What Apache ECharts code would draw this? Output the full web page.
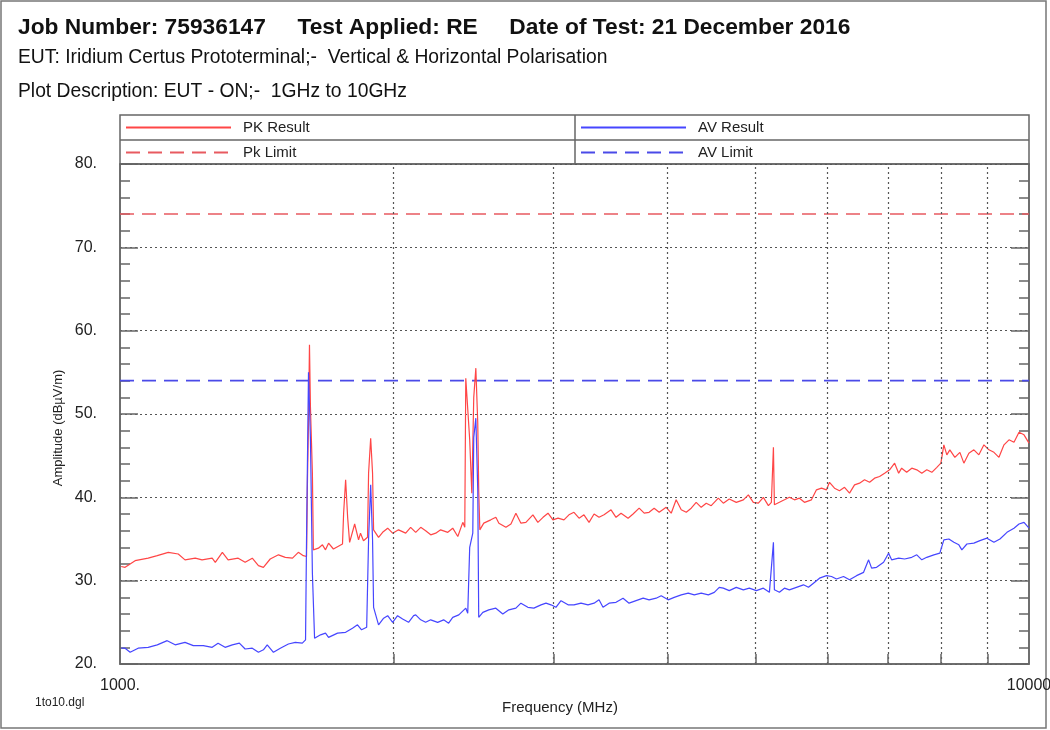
<!DOCTYPE html>
<html><head><meta charset="utf-8">
<script src="https://cdn.jsdelivr.net/npm/echarts@6/dist/echarts.min.js"></script>
<style>html,body{margin:0;padding:0;background:#fff}#c{width:1050px;height:730px}</style>
</head><body><div id="c"></div>
<script>
const yTicks = [20, 30, 40, 50, 60, 70, 80];
const xGridFreqs = [2000, 3000, 4000, 5000, 6000, 7000, 8000, 9000];
const pkLimit = 74;
const avLimit = 54;

const pkFreq = [1003,1013,1026,1039,1074,1099,1130,1159,1179,1210,1231,1263,1273,1296,1315,1349,1373,1398,1420,1438,1463,1494,1520,1548,1571,1591,1604,1608,1612,1616,1620,1628,1632,1653,1670,1683,1696,1717,1757,1762,1771,1780,1789,1812,1830,1839,1853,1872,1877,1887,1896,1901,1925,1945,1970,1995,2025,2062,2088,2115,2142,2169,2197,2225,2253,2294,2323,2353,2383,2395,2401,2413,2425,2438,2450,2463,2475,2481,2488,2513,2558,2591,2611,2658,2692,2726,2761,2796,2846,2882,2920,2957,2994,3033,3079,3118,3158,3199,3239,3281,3323,3365,3408,3469,3513,3558,3622,3668,3725,3773,3820,3869,3919,3989,4040,4091,4144,4197,4250,4304,4359,4415,4471,4552,4610,4680,4764,4850,4912,4974,5038,5102,5168,5207,5234,5247,5314,5382,5450,5520,5591,5662,5763,5837,5912,5987,6033,6110,6188,6267,6347,6428,6510,6593,6678,6763,6849,6937,7025,7115,7188,7243,7335,7431,7526,7622,7719,7818,7918,7999,8060,8121,8183,8288,8394,8479,8587,8697,8808,8921,9035,9150,9267,9386,9506,9627,9750,9874,10000];
const pkValues = [31.7,31.6,32.0,32.4,32.7,33.0,33.4,33.2,32.5,32.7,32.5,32.7,32.2,33.4,32.5,32.7,32.2,32.7,31.8,31.6,32.6,33.1,32.8,32.7,33.4,33.0,32.9,42.4,48.9,58.3,50.8,42.9,33.7,33.9,34.3,33.7,34.5,33.8,34.4,38.1,42.1,37.6,34.6,36.8,34.9,35.7,34.8,35.2,42.9,47.1,42.9,36.1,35.2,35.8,36.3,35.7,36.1,35.7,36.4,35.8,36.4,36.0,35.5,35.7,36.1,35.8,36.3,35.3,37.0,36.4,54.3,54.1,46.9,40.5,52.0,55.5,48.9,40.9,36.1,36.9,37.3,37.6,36.9,36.4,36.8,38.1,36.9,37.0,37.9,37.0,37.6,38.1,37.3,37.5,37.3,37.9,38.2,37.5,37.9,37.0,38.0,37.6,37.9,38.5,37.6,38.1,37.5,38.0,38.7,38.1,38.2,38.7,38.2,38.8,38.1,39.7,38.5,38.2,38.7,39.4,38.8,39.3,39.0,39.9,39.3,39.8,39.4,39.7,40.3,39.4,39.3,40.0,39.0,39.4,46.0,39.1,39.4,39.7,40.0,39.7,39.9,39.4,39.7,40.9,41.1,40.9,41.8,41.1,40.8,41.2,40.5,41.5,41.7,42.1,41.8,42.3,42.5,42.9,43.3,44.1,42.9,43.5,43.0,43.5,43.3,42.9,43.3,43.0,43.6,44.1,46.3,45.1,45.7,44.8,45.4,44.1,45.3,45.7,45.1,46.3,45.7,45.4,44.8,46.3,46.9,46.6,47.8,47.5,46.5];

const avFreq = [1003,1013,1026,1047,1074,1099,1127,1150,1179,1204,1235,1263,1282,1305,1329,1353,1373,1398,1420,1438,1452,1475,1501,1532,1559,1587,1600,1604,1612,1620,1628,1637,1662,1683,1696,1735,1771,1802,1825,1844,1868,1877,1887,1896,1901,1925,1950,1970,1995,2020,2046,2077,2104,2115,2142,2169,2197,2236,2270,2299,2323,2359,2401,2413,2425,2444,2450,2463,2475,2481,2507,2545,2591,2637,2678,2726,2761,2810,2853,2905,2942,2979,3017,3056,3111,3158,3215,3272,3323,3365,3399,3452,3513,3576,3631,3696,3763,3820,3889,3939,4009,4071,4144,4218,4283,4359,4438,4506,4563,4610,4680,4764,4850,4924,5013,5102,5181,5234,5247,5314,5382,5450,5548,5648,5720,5793,5882,5987,6064,6141,6251,6347,6461,6577,6661,6712,6797,6919,7007,7061,7188,7298,7431,7526,7622,7719,7858,7978,8060,8163,8267,8372,8436,8544,8697,8831,8989,9150,9291,9457,9627,9750,9874,10000];
const avValues = [21.9,21.9,21.4,21.9,22.0,22.3,22.8,22.3,22.6,22.2,22.2,22.0,22.5,22.0,22.3,22.5,21.8,21.9,21.4,21.7,22.3,21.4,21.9,22.4,22.6,22.5,22.9,34.9,55.0,46.9,30.9,23.1,23.5,23.7,23.2,23.7,23.8,24.3,24.7,24.1,24.4,34.9,41.5,34.9,26.8,24.7,25.5,25.8,25.0,25.8,25.4,25.0,25.8,25.9,25.3,25.0,25.3,25.0,25.3,24.9,25.6,25.9,26.7,26.1,34.0,35.7,47.2,49.5,40.9,25.6,26.2,26.5,26.7,26.0,26.5,26.7,27.3,26.8,26.7,27.1,27.3,27.1,26.8,27.6,27.1,27.1,27.3,27.1,27.3,27.7,26.8,27.3,27.4,27.9,27.3,27.6,27.9,27.7,27.9,28.2,27.7,28.0,28.3,28.5,28.3,28.5,28.3,28.6,29.2,29.1,28.8,29.2,28.9,29.1,28.8,29.1,28.6,34.6,28.9,28.6,29.1,28.9,29.2,29.5,29.2,29.7,30.3,30.6,30.5,30.2,30.5,30.1,30.6,31.0,32.5,31.5,31.6,32.2,33.3,32.5,32.7,32.6,32.8,33.1,32.5,32.8,33.1,33.3,34.9,35.0,34.6,34.3,33.7,34.4,34.5,34.8,35.1,34.6,35.0,35.8,36.3,36.8,37.0,36.3];

const titleLine1 = 'Job Number: 75936147     Test Applied: RE     Date of Test: 21 December 2016';
const titleLine2 = 'EUT: Iridium Certus Prototerminal;-  Vertical & Horizontal Polarisation';
const titleLine3 = 'Plot Description: EUT - ON;-  1GHz to 10GHz';
const seriesNames = ['PK Result', 'AV Result', 'Pk Limit', 'AV Limit'];

const FONT = '"Liberation Sans", Arial, sans-serif';
const RED = '#ff4646', BLUE = '#4646ff', RED_D = '#e85a60', BLUE_D = '#4a4ae8';
const G = {left: 120, right: 21, top: 164, bottom: 66};

const chart = echarts.init(document.getElementById('c'));
const pairs = (xs, ys) => xs.map((x, i) => [x, ys[i]]);

function legendItem(name, left, top) {
  return {
    data: [name], left: left, top: top, orient: 'horizontal', padding: 0,
    itemWidth: 105, itemHeight: 14, selectedMode: false,
    itemStyle: {opacity: 0},
    textStyle: {fontFamily: FONT, fontSize: 15, color: '#222', padding: [0, 0, 0, 7]}
  };
}

const option = {
  animation: false,
  backgroundColor: '#fff',
  textStyle: {fontFamily: FONT},
  grid: {left: G.left, right: G.right, top: G.top, bottom: G.bottom, show: true, borderColor: '#666', borderWidth: 1.5, backgroundColor: 'transparent', outerBoundsMode: 'none', containLabel: false},
  legend: [
    legendItem(seriesNames[0], 125, 120),
    legendItem(seriesNames[1], 580, 120),
    legendItem(seriesNames[2], 125, 145),
    legendItem(seriesNames[3], 580, 145)
  ],
  xAxis: {
    type: 'log', logBase: 10, min: 1000, max: 10000,
    axisLine: {show: true, lineStyle: {color: '#666', width: 1.5}},
    axisTick: {show: false},
    splitLine: {show: false},
    axisLabel: {fontFamily: FONT, fontSize: 16, color: '#222', margin: 14,
      formatter: v => (v === 1000 ? '1000.' : '10000')}
  },
  yAxis: [{
    type: 'value', min: yTicks[0], max: yTicks[yTicks.length - 1], interval: 10,
    axisLine: {show: true, lineStyle: {color: '#666', width: 1.5}},
    axisTick: {show: true, inside: true, length: 18, lineStyle: {color: '#666', width: 1.5}},
    minorTick: {show: true, splitNumber: 5, length: 10, lineStyle: {color: '#666', width: 1.5}},
    splitLine: {show: true, lineStyle: {color: '#555', width: 1.2, type: [2, 3]}},
    axisLabel: {fontFamily: FONT, fontSize: 16, color: '#222', margin: 23, formatter: v => v + '.'}
  }, {
    type: 'value', min: yTicks[0], max: yTicks[yTicks.length - 1], interval: 10, position: 'right',
    axisLine: {show: true, lineStyle: {color: '#666', width: 1.5}},
    axisTick: {show: true, inside: true, length: 18, lineStyle: {color: '#666', width: 1.5}},
    minorTick: {show: true, splitNumber: 5, length: 10, lineStyle: {color: '#666', width: 1.5}},
    splitLine: {show: false}, axisLabel: {show: false}
  }],
  series: [
    {
      name: '_grid', type: 'line', data: [], z: 1, silent: true,
      markLine: {
        silent: true, symbol: 'none', animation: false, label: {show: false},
        data: xGridFreqs.map(f => ({xAxis: f, lineStyle: {color: '#555', width: 1.2, type: [2, 3]}}))
          .concat(xGridFreqs.map(f => [{coord: [f, yTicks[0]], lineStyle: {color: '#666', width: 1.5, type: 'solid'}}, {coord: [f, 21.2]}]))
      }
    },
    {name: seriesNames[2], type: 'line', data: [[1000, pkLimit], [10000, pkLimit]], symbol: 'none', z: 3,
      lineStyle: {color: RED_D, width: 1.6, type: [14, 8]}, itemStyle: {color: RED_D}},
    {name: seriesNames[3], type: 'line', data: [[1000, avLimit], [10000, avLimit]], symbol: 'none', z: 3,
      lineStyle: {color: BLUE_D, width: 1.6, type: [14, 8]}, itemStyle: {color: BLUE_D}},
    {name: seriesNames[0], type: 'line', data: pairs(pkFreq, pkValues), symbol: 'none', z: 4,
      lineStyle: {color: RED, width: 1.2}, itemStyle: {color: RED}},
    {name: seriesNames[1], type: 'line', data: pairs(avFreq, avValues), symbol: 'none', z: 5,
      lineStyle: {color: BLUE, width: 1.2}, itemStyle: {color: BLUE}}
  ],
  graphic: [
    {type: 'rect', shape: {x: 1, y: 1, width: 1045, height: 727}, style: {fill: 'none', stroke: '#777', lineWidth: 1.5}, silent: true, z: 0},
    {type: 'rect', shape: {x: 120, y: 115, width: 909, height: 49}, style: {fill: 'none', stroke: '#666', lineWidth: 1.5}, silent: true},
    {type: 'line', shape: {x1: 120, y1: 140, x2: 1029, y2: 140}, style: {stroke: '#666', lineWidth: 1.5}, silent: true},
    {type: 'line', shape: {x1: 575, y1: 115, x2: 575, y2: 164}, style: {stroke: '#666', lineWidth: 1.5}, silent: true},
    {type: 'text', left: 18, top: 16, style: {text: titleLine1, font: 'bold 22.75px ' + FONT, fill: '#111'}},
    {type: 'text', left: 18, top: 48, style: {text: titleLine2, font: '19.3px ' + FONT, fill: '#111'}},
    {type: 'text', left: 18, top: 82, style: {text: titleLine3, font: '19.3px ' + FONT, fill: '#111'}},
    {type: 'text', x: 58, y: 428, rotation: Math.PI / 2, style: {text: 'Amplitude (dBµV/m)', font: '13px ' + FONT, fill: '#222', align: 'center', verticalAlign: 'middle'}},
    {type: 'text', x: 560, y: 708, style: {text: 'Frequency (MHz)', font: '15px ' + FONT, fill: '#222', align: 'center', verticalAlign: 'middle'}},
    {type: 'text', x: 35, y: 703, style: {text: '1to10.dgl', font: '12px ' + FONT, fill: '#222', align: 'left', verticalAlign: 'middle'}}
  ]
};
chart.setOption(option);
</script></body></html>
